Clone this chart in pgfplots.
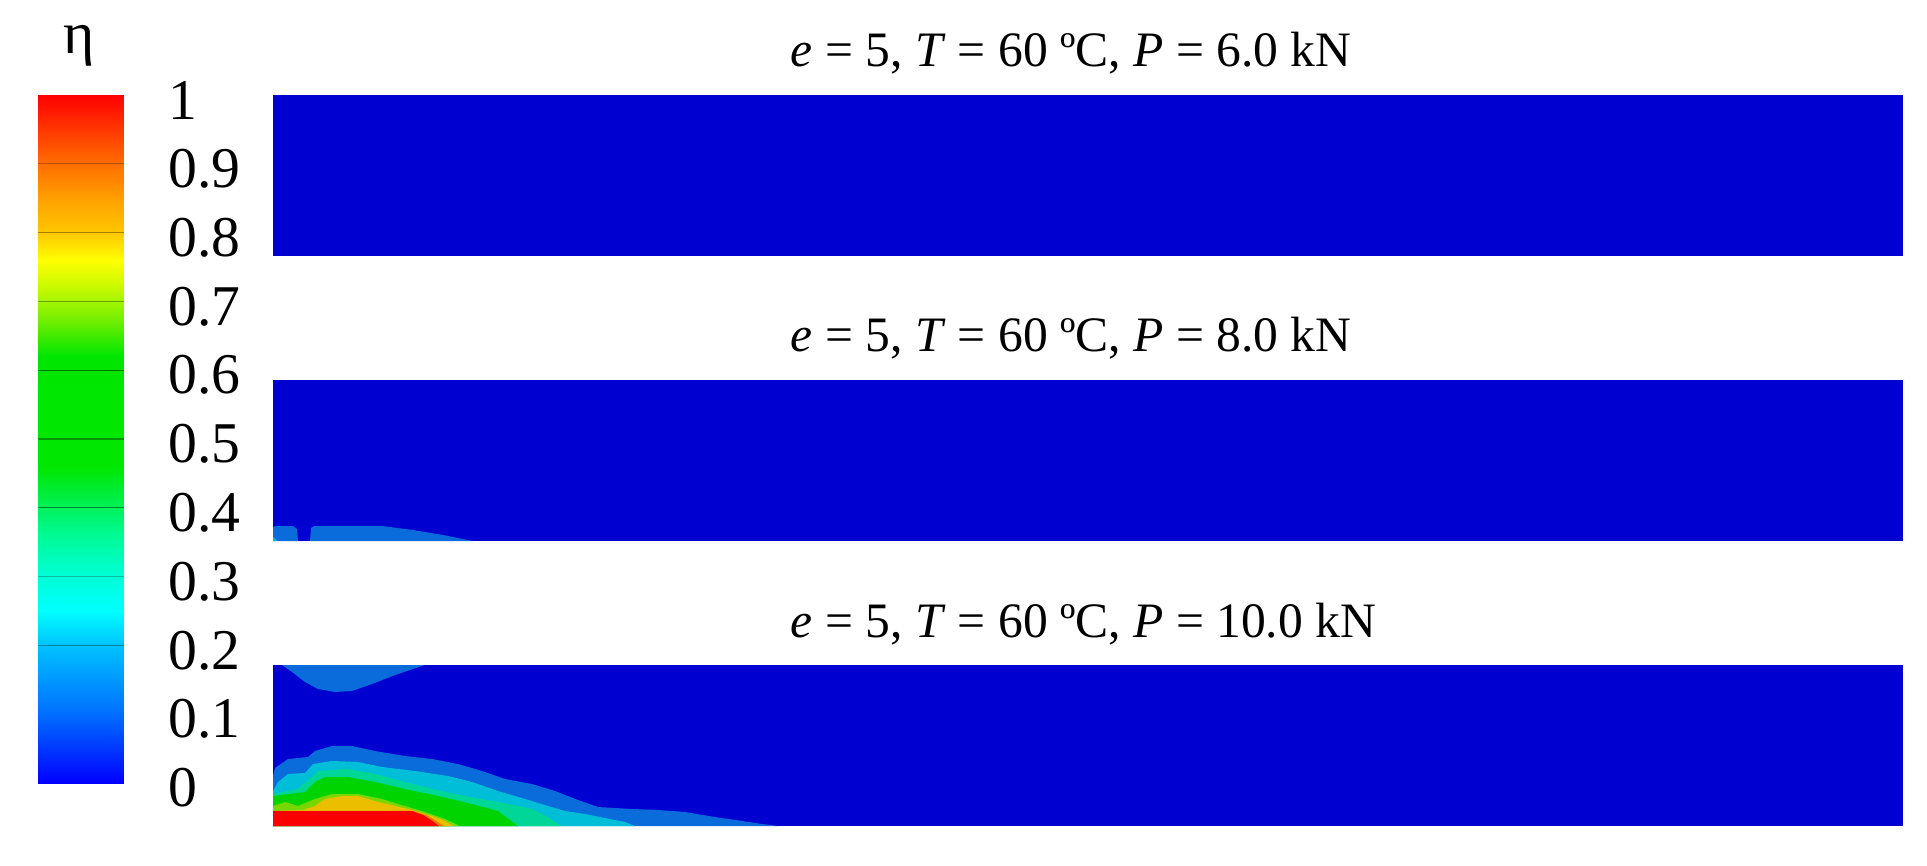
\documentclass[border=0pt]{standalone}
\usepackage{pgfplots}
\pgfplotsset{compat=1.18}
\usepackage{fontspec}
\setmainfont{Liberation Serif}

% contour band colours
\definecolor{b0}{RGB}{0,0,208}
\definecolor{b1}{RGB}{10,108,218}
\definecolor{b2}{RGB}{0,190,215}
\definecolor{b3}{RGB}{0,215,150}
\definecolor{b4}{RGB}{0,212,0}
\definecolor{b6}{RGB}{120,215,0}
\definecolor{b7}{RGB}{235,190,0}
\definecolor{b8}{RGB}{245,120,0}
\definecolor{b9}{RGB}{250,0,0}

\pgfplotsset{
  every axis title shift=0pt,
  panel/.style={anchor=south west, scale only axis, width=163mm, height=16.1mm,
    xmin=0, xmax=1630, ymin=0, ymax=161, hide axis,
    title style={at={(0.3172,1)}, anchor=base west, yshift=2.8mm,
      inner sep=0pt, font=\fontsize{14.1}{16}\selectfont}},
  cband/.style={fill=#1, draw=none},
}

\begin{document}
\begin{tikzpicture}
\path[use as bounding box] (0,0) rectangle (192.7mm,86.5mm);

% colour bar
\begin{axis}[at={(3.8mm,8.2mm)}, anchor=south west, scale only axis,
  width=8.6mm, height=68.8mm, view={0}{90},
  xmin=0, xmax=1, ymin=0, ymax=1, zmin=-1, zmax=1,
  colormap={eta}{rgb255(0cm)=(0,0,255); rgb255(1cm)=(0,110,255);
    rgb255(2cm)=(0,195,255); rgb255(2.5cm)=(0,255,255); rgb255(3cm)=(0,255,215);
    rgb255(3.6cm)=(0,250,150); rgb255(4.2cm)=(0,238,60); rgb255(4.6cm)=(0,232,0);
    rgb255(6.2cm)=(0,230,0); rgb255(6.7cm)=(110,238,0); rgb255(7.2cm)=(200,250,0);
    rgb255(7.6cm)=(255,255,0); rgb255(8cm)=(255,200,0); rgb255(8.5cm)=(255,160,0);
    rgb255(9cm)=(255,110,0); rgb255(10cm)=(255,0,0)},
  point meta min=0, point meta max=1,
  axis line style={draw=none}, xtick=\empty, ztick=\empty,
  ytick={0,0.1,0.2,0.3,0.4,0.5,0.6,0.7,0.8,0.9,1},
  yticklabels={0,0.1,0.2,0.3,0.4,0.5,0.6,0.7,0.8,0.9,1},
  yticklabel pos=right, major tick length=0pt,
  yticklabel style={anchor=west, inner sep=0pt, xshift=4.4mm, yshift=-0.5mm,
    font=\fontsize{16.4}{18}\selectfont},
  title={η},
  title style={at={(0.43,1)}, anchor=base, xshift=0.4mm, yshift=4.2mm, inner sep=0pt,
    font=\fontsize{17}{19}\selectfont},
]
\addplot3[surf, shader=interp, point meta=y] coordinates {
(0,0,0) (1,0,0)

(0,0.1,0) (1,0.1,0)

(0,0.2,0) (1,0.2,0)

(0,0.3,0) (1,0.3,0)

(0,0.4,0) (1,0.4,0)

(0,0.5,0) (1,0.5,0)

(0,0.6,0) (1,0.6,0)

(0,0.7,0) (1,0.7,0)

(0,0.8,0) (1,0.8,0)

(0,0.9,0) (1,0.9,0)

(0,1,0) (1,1,0)
};
\addplot3[black, opacity=0.35, line width=0.35pt] coordinates {(0,0.2,0) (1,0.2,0)};
\addplot3[black, opacity=0.25, line width=0.35pt] coordinates {(0,0.3,0) (1,0.3,0)};
\addplot3[black, opacity=0.45, line width=0.35pt] coordinates {(0,0.4,0) (1,0.4,0)};
\addplot3[black, opacity=0.35, line width=0.35pt] coordinates {(0,0.5,0) (1,0.5,0)};
\addplot3[black, opacity=0.5, line width=0.35pt] coordinates {(0,0.6,0) (1,0.6,0)};
\addplot3[black, opacity=0.35, line width=0.35pt] coordinates {(0,0.7,0) (1,0.7,0)};
\addplot3[black, opacity=0.35, line width=0.35pt] coordinates {(0,0.8,0) (1,0.8,0)};
\addplot3[black, opacity=0.25, line width=0.35pt] coordinates {(0,0.9,0) (1,0.9,0)};
\end{axis}

% P = 6.0 kN
\begin{axis}[panel, at={(27.3mm,60.9mm)},
  title={\textit{e} = 5, \textit{T} = 60 ºC, \textit{P} = 6.0 kN}]
\addplot[cband=b0] coordinates {(0,0) (1630,0) (1630,161) (0,161)} -- cycle;
\end{axis}

% P = 8.0 kN
\begin{axis}[panel, at={(27.3mm,32.4mm)},
  title={\textit{e} = 5, \textit{T} = 60 ºC, \textit{P} = 8.0 kN}]
\addplot[cband=b0] coordinates {(0,0) (1630,0) (1630,161) (0,161)} -- cycle;
\addplot[cband=b1] coordinates {(0,14) (3,15) (20,15) (24,12) (25,0)} \closedcycle;
\addplot[cband=b1] coordinates {(37,0) (38,13) (41,15) (109,15) (140,11) (170,6) (200,0)} \closedcycle;
\addplot[cband=b2] coordinates {(0,4) (4,0)} \closedcycle;
\end{axis}

% P = 10.0 kN
\begin{axis}[panel, at={(27.3mm,3.9mm)},
  title={\textit{e} = 5, \textit{T} = 60 ºC, \textit{P} = 10.0 kN}]
\addplot[cband=b0] coordinates {(0,0) (1630,0) (1630,161) (0,161)} -- cycle;
\addplot[cband=b1] coordinates {(9,161) (19,154) (32,144) (45,137) (62,134) (79,135)
  (99,142) (125,152) (152,161)} -- cycle;
\addplot[cband=b1] coordinates {(0,50) (2,58) (15,67) (35,69) (42,75) (59,80) (79,80)
  (102,75) (132,70) (159,67) (185,62) (209,55) (232,47) (259,42) (282,35) (305,26)
  (325,19) (359,17) (385,16) (412,14) (442,9) (469,5) (489,2) (505,0)} \closedcycle;
\addplot[cband=b2] coordinates {(0,35) (5,44) (15,52) (32,53) (40,62) (59,65) (85,64)
  (109,59) (142,55) (175,50) (199,44) (225,35) (252,27) (275,20) (292,15) (312,12)
  (332,8) (352,4) (362,0)} \closedcycle;
\addplot[cband=b3] coordinates {(0,32) (25,37) (39,49) (45,55) (75,57) (102,52) (132,44)
  (159,37) (192,30) (225,24) (259,17) (275,9) (288,0)} \closedcycle;
\addplot[cband=b4] coordinates {(0,30) (32,34) (42,44) (52,49) (75,49) (102,44) (132,37)
  (165,30) (199,22) (225,15) (245,0)} \closedcycle;
\addplot[cband=b6] coordinates {(0,20) (12,24) (25,20) (42,27) (59,32) (85,32) (109,27)
  (132,20) (152,14) (172,7) (187,0)} \closedcycle;
\addplot[cband=b7] coordinates {(0,15) (30,16) (42,20) (52,27) (69,30) (85,30) (102,25)
  (122,20) (139,16) (159,10) (172,5) (180,0)} \closedcycle;
\addplot[cband=b8] coordinates {(0,15) (139,15.3) (153,11) (162,6) (171,0)} \closedcycle;
\addplot[cband=b9] coordinates {(0,15) (139,15) (150,11) (158,6) (166,0)} \closedcycle;
\end{axis}
\end{tikzpicture}
\end{document}
